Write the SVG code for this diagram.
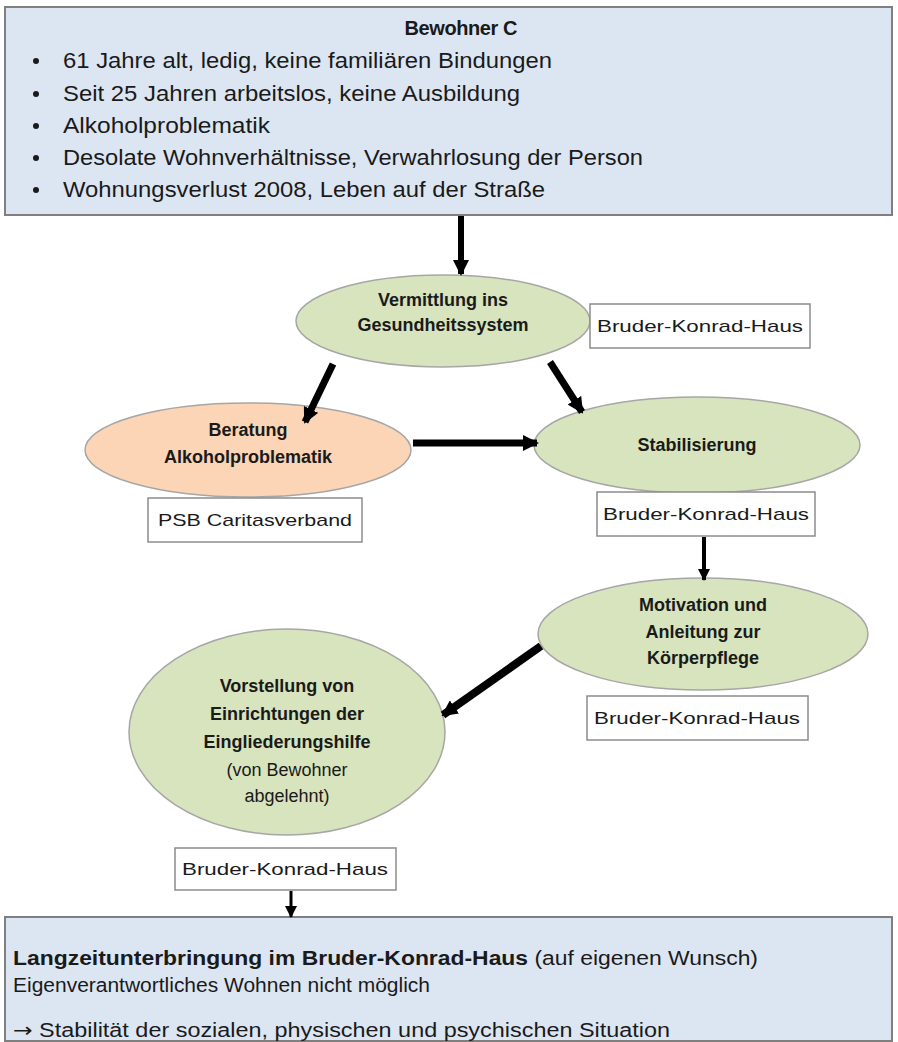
<svg xmlns="http://www.w3.org/2000/svg" width="898" height="1042" viewBox="0 0 898 1042">
<style>
text{font-family:"Liberation Sans",Arial,sans-serif;fill:#1a1a1a}
.box{fill:#dce6f2;stroke:#7f7f7f;stroke-width:2}
.lbl{fill:#ffffff;stroke:#8c8c8c;stroke-width:1.5}
.g{fill:#d7e4bd;stroke:#a6a6a6;stroke-width:1.5}
.o{fill:#fbd5b5;stroke:#a6a6a6;stroke-width:1.5}
.t{font-size:22px}
.b{font-weight:bold}
.e{font-size:18px;font-weight:bold;text-anchor:middle}
.en{font-size:18px;text-anchor:middle}
.l{font-size:17px;text-anchor:middle}
.bt{font-size:20px}
.c{fill:none;stroke:#000}
</style>
<defs>
<marker id="ah" markerUnits="userSpaceOnUse" markerWidth="16" markerHeight="16" refX="14" refY="8" orient="auto">
<path d="M0,0 L16,8 L0,16 Z" fill="#000"/>
</marker>
<marker id="ahs" markerUnits="userSpaceOnUse" markerWidth="12" markerHeight="12" refX="11" refY="6" orient="auto">
<path d="M0,0 L12,6 L0,12 Z" fill="#000"/>
</marker>
</defs>
<g id="bewohner">
<rect class="box" x="5" y="7" width="887" height="208"/>
<text class="b" x="461" y="35" font-size="20" text-anchor="middle" textLength="113">Bewohner C</text>
<g class="t">
<circle cx="36" cy="61" r="3" fill="#1a1a1a"/>
<text x="63" y="68" textLength="489" lengthAdjust="spacingAndGlyphs">61 Jahre alt, ledig, keine familiären Bindungen</text>
<circle cx="36" cy="94" r="3" fill="#1a1a1a"/>
<text x="63" y="101" textLength="457" lengthAdjust="spacingAndGlyphs">Seit 25 Jahren arbeitslos, keine Ausbildung</text>
<circle cx="36" cy="126" r="3" fill="#1a1a1a"/>
<text x="63" y="133" textLength="207" lengthAdjust="spacingAndGlyphs">Alkoholproblematik</text>
<circle cx="36" cy="158" r="3" fill="#1a1a1a"/>
<text x="63" y="165" textLength="580" lengthAdjust="spacingAndGlyphs">Desolate Wohnverhältnisse, Verwahrlosung der Person</text>
<circle cx="36" cy="190" r="3" fill="#1a1a1a"/>
<text x="63" y="197" textLength="482" lengthAdjust="spacingAndGlyphs">Wohnungsverlust 2008, Leben auf der Straße</text>
</g>
</g>
<g id="vermittlung">
<ellipse class="g" cx="443" cy="321" rx="147" ry="46"/>
<text class="e" x="443" y="306">Vermittlung ins</text>
<text class="e" x="443" y="331">Gesundheitssystem</text>
</g>
<g id="label1">
<rect class="lbl" x="590" y="304" width="220" height="44"/>
<text class="l" x="700" y="332" textLength="206" lengthAdjust="spacingAndGlyphs">Bruder-Konrad-Haus</text>
</g>
<g id="beratung">
<ellipse class="o" cx="248" cy="450" rx="163" ry="47"/>
<text class="e" x="248" y="436">Beratung</text>
<text class="e" x="248" y="463">Alkoholproblematik</text>
</g>
<g id="label2">
<rect class="lbl" x="148" y="498" width="214" height="44"/>
<text class="l" x="255" y="526" textLength="194" lengthAdjust="spacingAndGlyphs">PSB Caritasverband</text>
</g>
<g id="stabilisierung">
<ellipse class="g" cx="697" cy="445" rx="163" ry="48"/>
<text class="e" x="697" y="451">Stabilisierung</text>
</g>
<g id="label3">
<rect class="lbl" x="597" y="492" width="218" height="44"/>
<text class="l" x="706" y="520" textLength="206" lengthAdjust="spacingAndGlyphs">Bruder-Konrad-Haus</text>
</g>
<g id="motivation">
<ellipse class="g" cx="703" cy="634" rx="165" ry="56"/>
<text class="e" x="703" y="611">Motivation und</text>
<text class="e" x="703" y="638">Anleitung zur</text>
<text class="e" x="703" y="664">Körperpflege</text>
</g>
<g id="label4">
<rect class="lbl" x="587" y="696" width="221" height="44"/>
<text class="l" x="697" y="724" textLength="206" lengthAdjust="spacingAndGlyphs">Bruder-Konrad-Haus</text>
</g>
<g id="vorstellung">
<ellipse class="g" cx="287" cy="732" rx="158" ry="103"/>
<text class="e" x="287" y="692">Vorstellung von</text>
<text class="e" x="287" y="720">Einrichtungen der</text>
<text class="e" x="287" y="748">Eingliederungshilfe</text>
<text class="en" x="287" y="776">(von Bewohner</text>
<text class="en" x="287" y="802">abgelehnt)</text>
</g>
<g id="label5">
<rect class="lbl" x="175" y="848" width="221" height="42"/>
<text class="l" x="285" y="875" textLength="206" lengthAdjust="spacingAndGlyphs">Bruder-Konrad-Haus</text>
</g>
<g id="langzeit">
<rect class="box" x="5" y="917" width="887" height="124"/>
<text class="bt" x="13" y="965" textLength="745" lengthAdjust="spacingAndGlyphs"><tspan class="b">Langzeitunterbringung im Bruder-Konrad-Haus</tspan> (auf eigenen Wunsch)</text>
<text class="bt" x="13" y="992" textLength="417" lengthAdjust="spacingAndGlyphs">Eigenverantwortliches Wohnen nicht möglich</text>
<text class="bt" x="13" y="1037" textLength="657" lengthAdjust="spacingAndGlyphs"><tspan font-family="DejaVu Sans">→</tspan> Stabilität der sozialen, physischen und psychischen Situation</text>
</g>
<g id="connectors">
<line class="c" x1="461" y1="216" x2="461" y2="274" stroke-width="6" marker-end="url(#ah)"/>
<line class="c" x1="333" y1="364" x2="305" y2="422" stroke-width="7" marker-end="url(#ah)"/>
<line class="c" x1="550" y1="362" x2="582" y2="412" stroke-width="7" marker-end="url(#ah)"/>
<line class="c" x1="413" y1="443" x2="537" y2="443" stroke-width="7" marker-end="url(#ah)"/>
<line class="c" x1="704" y1="537" x2="704" y2="580" stroke-width="4" marker-end="url(#ahs)"/>
<line class="c" x1="541" y1="646" x2="443" y2="715" stroke-width="8" marker-end="url(#ah)"/>
<line class="c" x1="291" y1="891" x2="291" y2="917" stroke-width="3" marker-end="url(#ahs)"/>
</g>
</svg>
